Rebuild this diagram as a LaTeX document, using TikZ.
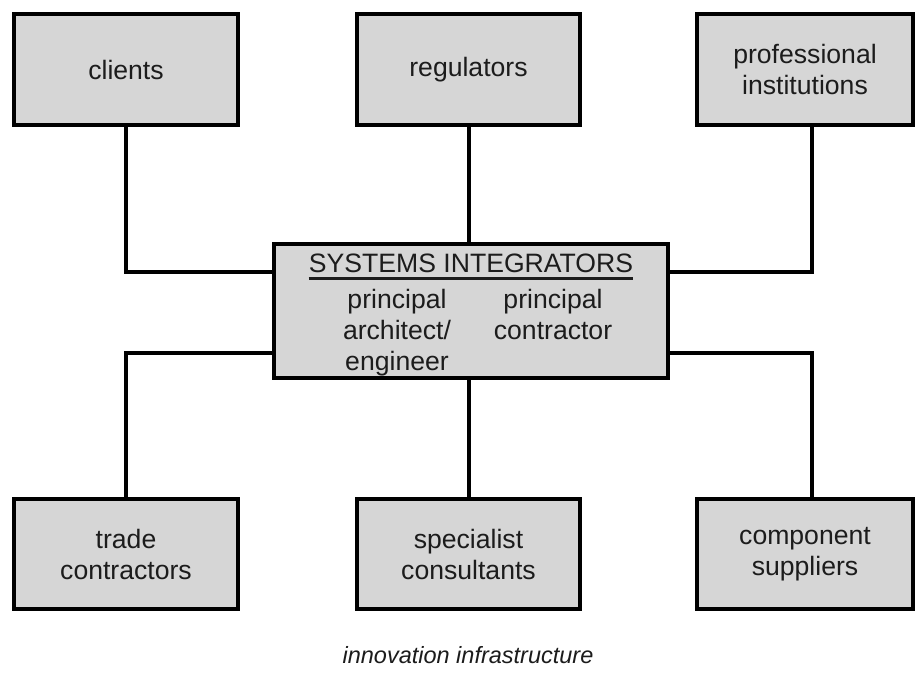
\documentclass[tikz,border=0pt]{standalone}
\usepackage{fontspec}
\setmainfont{Liberation Sans}
\definecolor{boxfill}{HTML}{D6D6D6}
\definecolor{ink}{HTML}{1C1C1C}
\begin{document}
\begin{tikzpicture}[x=1pt,y=-1pt,
  box/.style={draw=black, fill=boxfill, line width=4.5pt, text=ink, align=center,
    inner sep=0pt, font=\fontsize{26.6}{31}\selectfont},
  txt/.style={text=ink, align=center, inner sep=0pt, font=\fontsize{26.6}{31}\selectfont},
  link/.style={draw=black, line width=4pt}]
\useasboundingbox (0,0) rectangle (917,672);
\fill[white] (0,0) rectangle (917,672);
% top row
\node[box, minimum width=224pt, minimum height=111pt] (clients) at (126,69.5) {clients};
\node[box, minimum width=223pt, minimum height=111pt] (regs) at (468.5,69.5) {regulators};
\node[box, minimum width=216pt, minimum height=111pt] (prof) at (805,69.5) {professional\\institutions};
% bottom row
\node[box, minimum width=224pt, minimum height=110pt] (trade) at (126,554) {trade\\contractors};
\node[box, minimum width=223pt, minimum height=110pt] (spec) at (468.5,554) {specialist\\consultants};
\node[box, minimum width=216pt, minimum height=110pt] (comp) at (805,554) {component\\suppliers};
% centre
\node[box, minimum width=394pt, minimum height=134pt] (sys) at (471,311) {};
\node[txt] (title) at (471,263) {SYSTEMS INTEGRATORS};
\draw[line width=3pt, draw=ink] ([yshift=-15pt]title.west) -- ([yshift=-15pt]title.east);
\node[txt, anchor=north] (archeng) at (397,289) {principal\\architect/\\engineer};
\node[txt, anchor=north] (contr) at (553,289) {principal\\contractor};
% connectors
\coordinate (sysUL) at ([yshift=39pt]sys.west);
\coordinate (sysLL) at ([yshift=-42pt]sys.west);
\coordinate (sysUR) at ([yshift=39pt]sys.east);
\coordinate (sysLR) at ([yshift=-42pt]sys.east);
\coordinate (profS) at ([xshift=7pt]prof.south);
\coordinate (compN) at ([xshift=7pt]comp.north);
\draw[link] (clients.south) |- (sysUL);
\draw[link] (trade.north) |- (sysLL);
\draw[link] (profS) |- (sysUR);
\draw[link] (compN) |- (sysLR);
\draw[link] (regs.south) -- (regs.south |- sys.north);
\draw[link] (spec.north) -- (spec.north |- sys.south);
% caption
\node[txt, font=\fontsize{23.5}{28}\selectfont\itshape] (caption) at (468,655) {innovation infrastructure};
\end{tikzpicture}
\end{document}
